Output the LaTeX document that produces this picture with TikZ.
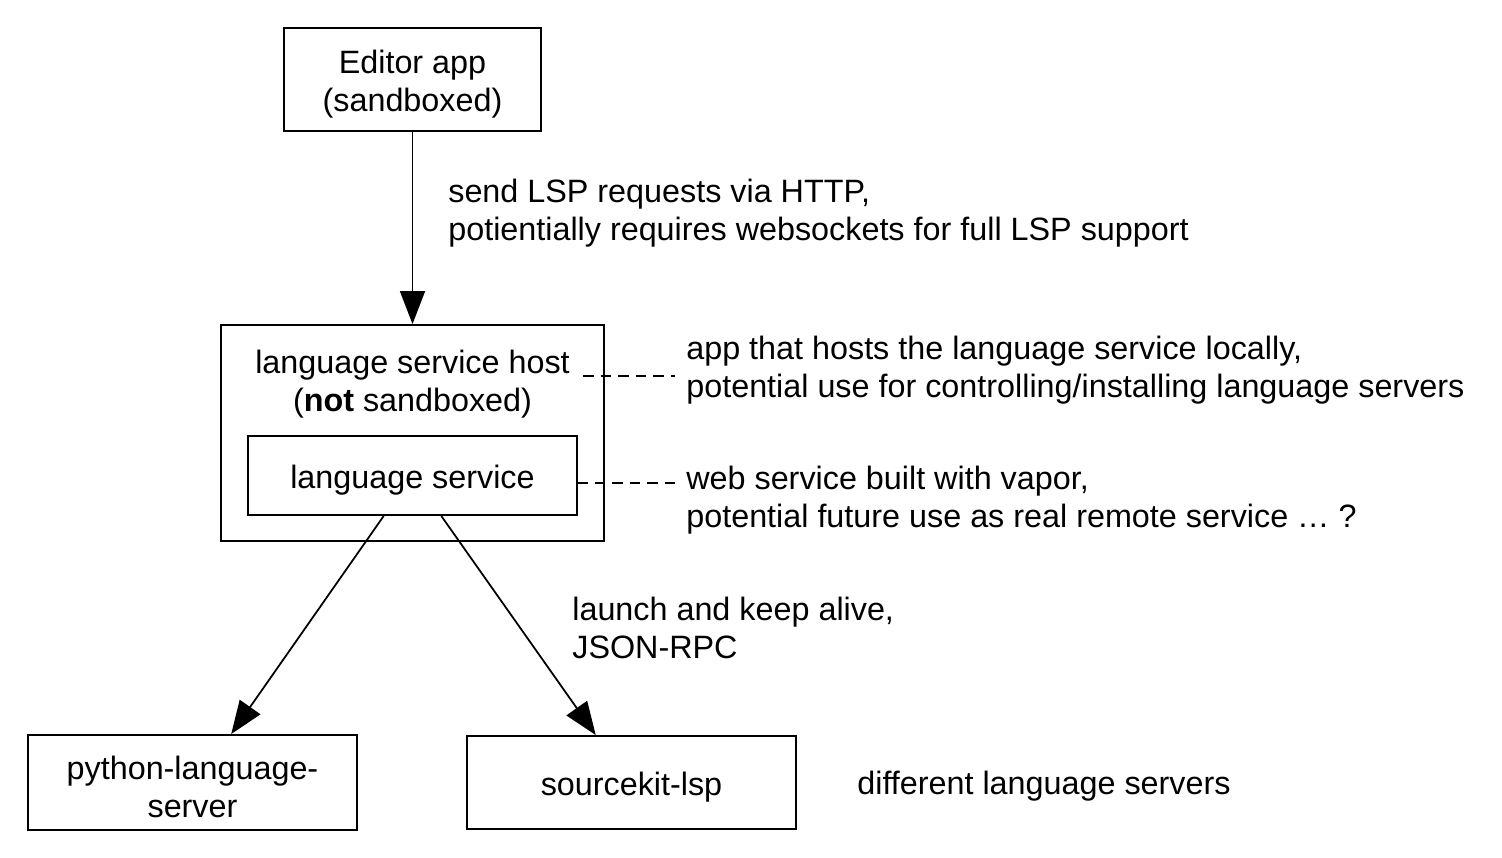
\documentclass[tikz,border=0pt]{standalone}
\usepackage{fontspec}
\setmainfont{Liberation Sans}
\usetikzlibrary{arrows.meta,calc}
\tikzset{>={Triangle[width=0.5cm,length=0.66cm]}}
\newcommand{\lowered}[1]{\raisebox{-2.6pt}[\height][\depth]{#1}}
\tikzset{%
    box/.style={draw, line width=1.1pt, align=center, inner sep=0pt},
    note/.style={anchor=west, align=left, inner sep=0pt},
    link/.style={->, line width=1pt},
    dashline/.style={dash pattern=on 6pt off 4pt, line width=0.6pt}
}

\begin{document}
\begin{tikzpicture}[x=0.02cm,y=-0.02cm,font=\fontsize{18.4}{21.3}\selectfont]
	\useasboundingbox (0,0) rectangle (1502,858);

	\node[box,minimum width=5.14cm,minimum height=2.06cm] (E) at (412.5,79.5) {\lowered{\parbox{5cm}{\centering Editor app\\(sandboxed)}}};

	\node[box,minimum width=7.66cm,minimum height=4.32cm] (H) at (412.5,433) {};
	\node[align=center,inner sep=0pt] (Ht) at (412.5,384) {language service host\\(\textbf{not} sandboxed)};
	\node[box,minimum width=6.58cm,minimum height=1.58cm] (S) at (412.5,475.5) {\lowered{language service}};

	\node[box,minimum width=6.58cm,minimum height=1.9cm] (P) at (192.5,782.5) {\lowered{\parbox{6.4cm}{\centering python-language-\\server}}};
	\node[box,minimum width=6.58cm,minimum height=1.86cm] (K) at (631.5,782.5) {\lowered{sourcekit-lsp}};

	\node[note] (L1) at (448,213) {send LSP requests via HTTP,\\potientially requires websockets for full LSP support};
	\node[note] (L2) at (686,370) {app that hosts the language service locally,\\potential use for controlling/installing language servers};
	\node[note] (L3) at (686,500) {web service built with vapor,\\potential future use as real remote service \dots\ ?};
	\node[note] (L4) at (572,628) {launch and keep alive,\\JSON-RPC};
	\node[note] (L5) at (857,786) {different language servers};

	\coordinate (d1) at (583,376);
	\coordinate (d2) at (577,483);

	\draw[link] (E) -- (H);
	\draw[link] ($(S.south west)!0.413!(S.south east)$) -- ($(P.north west)!0.617!(P.north east)$);
	\draw[link] ($(S.south west)!0.587!(S.south east)$) -- ($(K.north west)!0.392!(K.north east)$);

	\draw[dashline] (d1) -- ([xshift=-0.22cm]L2.west |- d1);
	\draw[dashline] (d2) -- ([xshift=-0.18cm]L3.west |- d2);
\end{tikzpicture}
\end{document}
